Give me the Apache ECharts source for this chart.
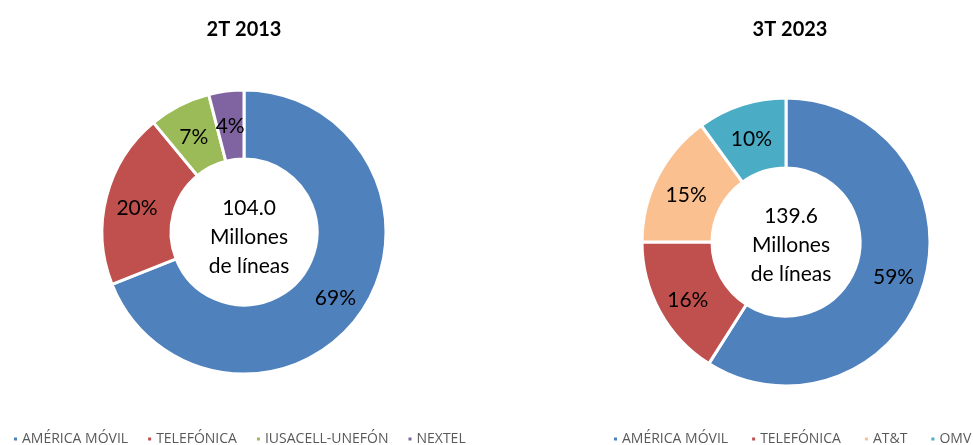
<!DOCTYPE html>
<html><head><meta charset="utf-8">
<script src="https://cdn.jsdelivr.net/npm/echarts@6/dist/echarts.min.js"></script>
<style>html,body{margin:0;padding:0;background:#fff}#c{width:973px;height:445px}</style>
</head><body><div id="c"></div>
<script>
const titles = ['2T 2013', '3T 2023'];
const totals = ['104.0', '139.6'];
const centerUnit = ['Millones', 'de líneas'];
const categories2013 = ['AMÉRICA MÓVIL', 'TELEFÓNICA', 'IUSACELL-UNEFÓN', 'NEXTEL'];
const values2013 = [69, 20, 7, 4];
const colors2013 = ['#4F81BD', '#C0504D', '#9BBB59', '#8064A2'];
const categories2023 = ['AMÉRICA MÓVIL', 'TELEFÓNICA', 'AT&T', 'OMV'];
const values2023 = [59, 16, 15, 10];
const colors2023 = ['#4F81BD', '#C0504D', '#FAC090', '#4BACC6'];

const FONT = 'Lato, "Open Sans", sans-serif';
const LFONT = '"Open Sans", Lato, sans-serif';
const chart = echarts.init(document.getElementById('c'), null, {renderer: 'canvas'});

function pie(name, cats, vals, cols, center, radius) {
  return {
    type: 'pie', name: name, center: center, radius: radius,
    startAngle: 90, clockwise: true, avoidLabelOverlap: false,
    itemStyle: {borderColor: '#fff', borderWidth: 3},
    label: {show: true, position: 'inside', formatter: '{c}%', color: '#000', fontSize: 21, fontFamily: FONT},
    labelLayout: {dy: 4},
    labelLine: {show: false},
    emphasis: {disabled: true},
    data: cats.map((c, i) => ({name: c, value: vals[i], itemStyle: {color: cols[i]}}))
  };
}

function legend(cats, left, gap) {
  return {
    data: cats.map(c => ({name: c})), left: left, top: 432, padding: 0, icon: 'rect',
    itemWidth: 5, itemHeight: 5, itemGap: gap, selectedMode: false,
    textStyle: {color: '#595959', fontSize: 14, fontFamily: LFONT, padding: [0, 0, 0, -1]}
  };
}

chart.setOption({
  animation: false,
  title: [
    {text: titles[0], left: 239, top: 15, textAlign: 'center', textStyle: {fontSize: 20, fontWeight: 'bold', color: '#000', fontFamily: FONT}},
    {text: titles[1], left: 785, top: 15, textAlign: 'center', textStyle: {fontSize: 20, fontWeight: 'bold', color: '#000', fontFamily: FONT}},
    {text: totals[0] + '\n' + centerUnit[0] + '\n' + centerUnit[1], left: 244, top: 189, textAlign: 'center', textStyle: {fontSize: 21, fontWeight: 'normal', color: '#000', lineHeight: 29, fontFamily: FONT}},
    {text: totals[1] + '\n' + centerUnit[0] + '\n' + centerUnit[1], left: 786, top: 197, textAlign: 'center', textStyle: {fontSize: 21, fontWeight: 'normal', color: '#000', lineHeight: 29, fontFamily: FONT}}
  ],
  legend: [legend(categories2013, 12, 18), legend(categories2023, 612, 22)],
  series: [
    pie('2013', categories2013, values2013, colors2013, [244, 232], [73, 142]),
    pie('2023', categories2023, values2023, colors2023, [786, 242], [74, 144])
  ]
});
</script></body></html>
